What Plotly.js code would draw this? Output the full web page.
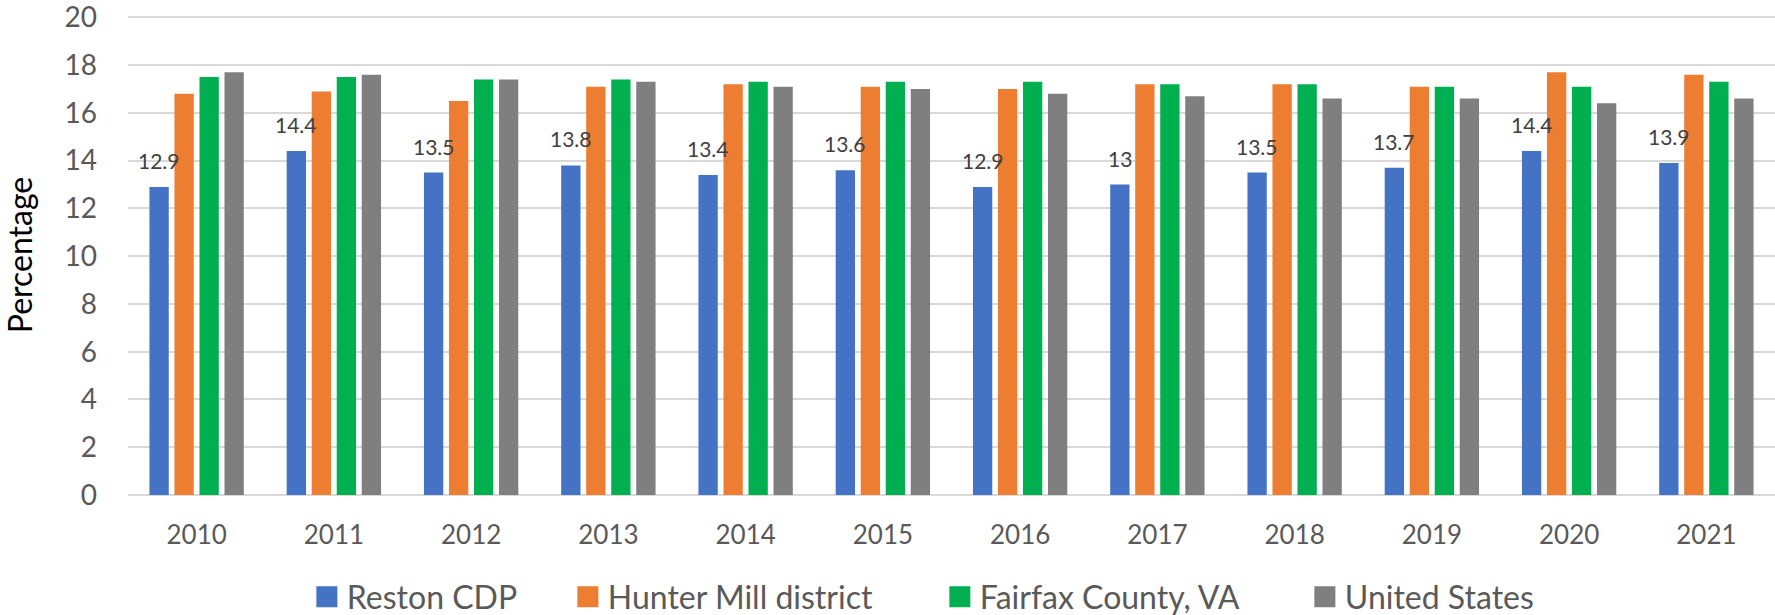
<!DOCTYPE html>
<html>
<head>
<meta charset="utf-8">
<script src="https://cdn.plot.ly/plotly-3.0.1.min.js"></script>
<style>
  html, body { margin: 0; padding: 0; background: #ffffff; }
  #chart { width: 1775px; height: 615px; }
</style>
</head>
<body>
<div id="chart"></div>
<script>
// ---- Data ----
const years = ['2010','2011','2012','2013','2014','2015','2016','2017','2018','2019','2020','2021'];
const reston = [12.9, 14.4, 13.5, 13.8, 13.4, 13.6, 12.9, 13.0, 13.5, 13.7, 14.4, 13.9];
const hunterMill = [16.8, 16.9, 16.5, 17.1, 17.2, 17.1, 17.0, 17.2, 17.2, 17.1, 17.7, 17.6];
const fairfax = [17.5, 17.5, 17.4, 17.4, 17.3, 17.3, 17.3, 17.2, 17.2, 17.1, 17.1, 17.3];
const unitedStates = [17.7, 17.6, 17.4, 17.3, 17.1, 17.0, 16.8, 16.7, 16.6, 16.6, 16.4, 16.6];
const seriesNames = ['Reston CDP', 'Hunter Mill district', 'Fairfax County, VA', 'United States'];
const yTicks = [0, 2, 4, 6, 8, 10, 12, 14, 16, 18, 20];

// ---- Styles ----
const colors = ['#4472C4', '#ED7D31', '#00B050', '#7F7F7F'];
const legendWidths = [216, 327, 320, 200];
const FONT = 'Lato, "Open Sans", "Liberation Sans", sans-serif';
const W = 1775, H = 615;
const margin = {l: 128, r: 0, t: 15, b: 120};
const bargap = 0.271, bargroupgap = 0.228;

const allSeries = [reston, hunterMill, fairfax, unitedStates];
const traces = allSeries.map((vals, i) => ({
  type: 'bar',
  name: seriesNames[i],
  x: years,
  y: vals,
  marker: {color: colors[i]},
  legendwidth: legendWidths[i],
  hoverinfo: 'x+y+name'
}));

// data labels on the first series, centred on its bar
const plotW = W - margin.l - margin.r;
const catW = plotW / years.length;
const slot = catW * (1 - bargap) / allSeries.length;
const firstShift = -1.5 * slot;
const annotations = years.map((yr, i) => ({
  x: i, y: reston[i], xref: 'x', yref: 'y',
  text: String(reston[i]),
  showarrow: false,
  xanchor: 'center', yanchor: 'bottom',
  xshift: firstShift, yshift: 12,
  font: {family: FONT, size: 21, color: '#404040'}
}));

const layout = {
  width: W, height: H,
  margin: margin,
  paper_bgcolor: '#ffffff',
  plot_bgcolor: '#ffffff',
  barmode: 'group',
  bargap: bargap,
  bargroupgap: bargroupgap,
  font: {family: FONT, color: '#595959'},
  xaxis: {
    type: 'category',
    categoryorder: 'array',
    categoryarray: years,
    range: [-0.5, years.length - 0.5],
    showgrid: false,
    showline: false,
    zeroline: false,
    ticks: '',
    ticklabelstandoff: 22,
    tickfont: {family: FONT, size: 26, color: '#595959'}
  },
  yaxis: {
    range: [0, 20.1],
    tickvals: yTicks,
    ticktext: yTicks.map(String),
    ticklabeloverflow: 'allow',
    showgrid: true,
    gridcolor: '#d9d9d9',
    gridwidth: 2,
    zeroline: true,
    zerolinecolor: '#d9d9d9',
    zerolinewidth: 2,
    showline: false,
    ticks: '',
    ticklabelstandoff: 30,
    tickfont: {family: FONT, size: 28, color: '#595959'},
    title: {text: 'Percentage', font: {family: FONT, size: 32, color: '#000000'}, standoff: 44}
  },
  legend: {
    orientation: 'h',
    x: 0.1086, xanchor: 'left',
    yref: 'container',
    y: 0.0293, yanchor: 'middle',
    font: {family: FONT, size: 32, color: '#595959'},
    bgcolor: 'rgba(0,0,0,0)',
    itemclick: false
  },
  annotations: annotations,
  showlegend: true
};

Plotly.newPlot('chart', traces, layout, {displayModeBar: false, staticPlot: true}).then(() => {
  document.querySelectorAll('.legend .legendpoints path').forEach(p => {
    p.setAttribute('d', 'M10.5,10.5H-10.5V-10.5H10.5Z');
  });
});
</script>
</body>
</html>
